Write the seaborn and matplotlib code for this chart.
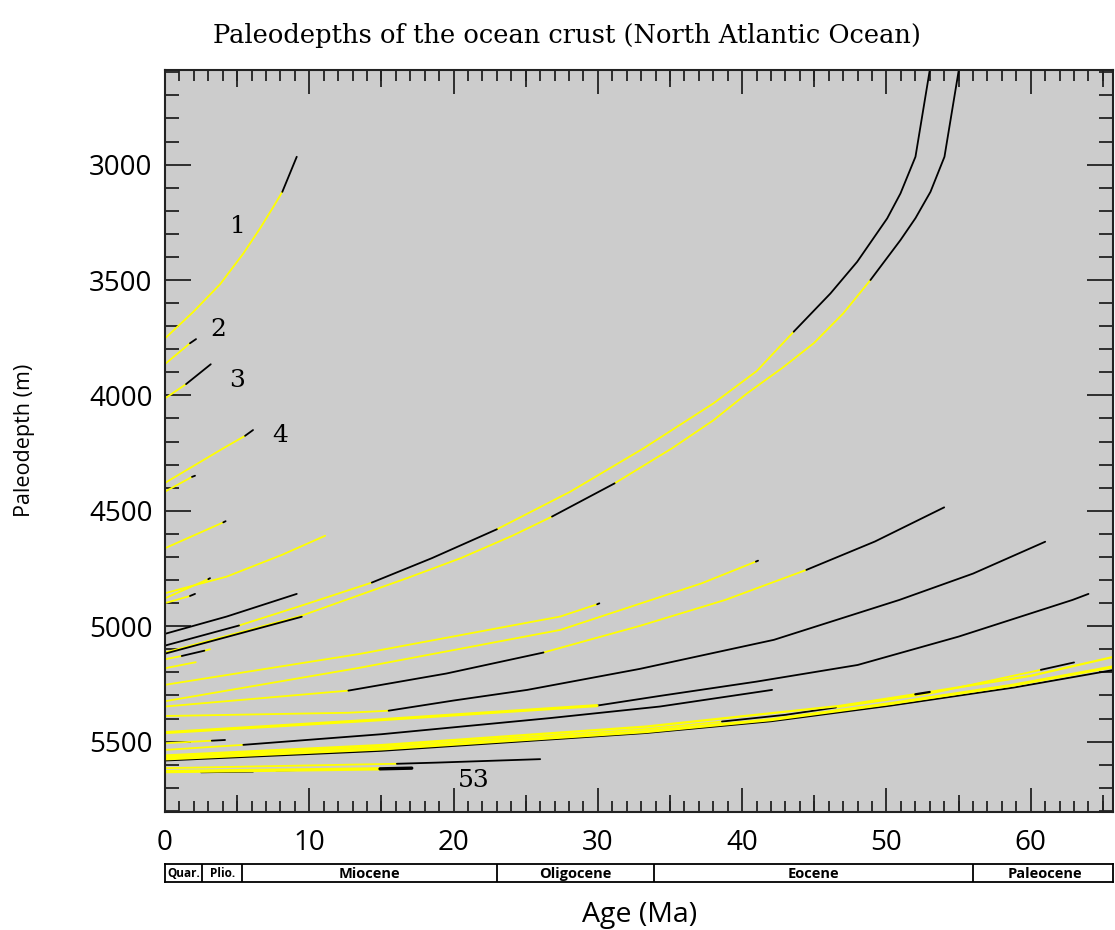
import pandas as pd
import matplotlib
matplotlib.use("Agg")
import matplotlib.pyplot as plt
import seaborn as sns
from matplotlib.ticker import MultipleLocator

# paleodepth curves: age (Ma), depth (m), colour of each segment (y = yellow, k = black)
c01_age = [0, 1.96, 3.81, 5.43, 6.59, 7.51, 8.13, 9.13]
c01_dep = [3753, 3638, 3519, 3385, 3276, 3183, 3118, 2966]
c01_col = "yyyyyyk"

c02_age = [0, 1.73, 2.15]
c02_dep = [3864, 3774, 3756]
c02_col = "yk"

c03_age = [0, 1.46, 3.17]
c03_dep = [4013, 3951, 3865]
c03_col = "yk"

c04_age = [0, 4.04, 5.55, 6.1]
c04_dep = [4379, 4229, 4175, 4150]
c04_col = "yyk"

c05_age = [0, 1.87, 2.08]
c05_dep = [4417, 4353, 4348]
c05_col = "yk"

c06_age = [0, 4.04, 4.2]
c06_dep = [4662, 4550, 4545]
c06_col = "yk"

c07_age = [0, 4.28, 8.1, 11.1]
c07_dep = [4857, 4785, 4691, 4608]
c07_col = "yyy"

c08_age = [0, 3.0, 3.12]
c08_dep = [4879, 4796, 4792]
c08_col = "yk"

c09_age = [0, 1.73, 2.08]
c09_dep = [4900, 4869, 4860]
c09_col = "yk"

c10_age = [0, 4.28, 9.13]
c10_dep = [5033, 4958, 4860]
c10_col = "kk"

# the two long curves reaching the ridge
up_age = [0, 5.13, 9.5, 14.33, 18.5, 23.0, 28.09, 33.17, 38.02, 41.0, 43.57, 46.12, 47.97, 50.05, 50.97, 52.01, 53.0]
up_dep = [5084, 4997, 4910, 4811, 4705, 4580, 4417, 4229, 4034, 3895, 3724, 3558, 3421, 3233, 3125, 2966, 2591]
up_col = "kyykkyyyyykkkkkk"

lo_age = [0, 9.48, 16.76, 20.5, 24.04, 26.82, 31.16, 35.14, 38.0, 40.34, 42.8, 44.96, 47.0, 48.89, 50.97, 52.01, 53.05, 54.02, 55.01]
lo_dep = [5114, 4954, 4792, 4705, 4609, 4525, 4381, 4229, 4108, 3991, 3880, 3774, 3645, 3500, 3327, 3232, 3118, 2966, 2591]
lo_col = "yyyyykyyyyyyykkkkk"

c11_age = [0, 9.48]
c11_dep = [5119, 4959]
c11_col = "k"

c12_age = [0, 1.16, 2.73, 3.12]
c12_dep = [5143, 5129, 5106, 5100]
c12_col = "yky"

c13_age = [0, 2.13]
c13_dep = [5182, 5156]
c13_col = "y"

p_age = [0, 13.5, 27.4, 29.95, 30.1]
p_dep = [5254, 5120, 4958, 4905, 4901]
p_col = "yyyk"

q_age = [0, 13.5, 27.4, 37.2, 40.95, 41.1]
q_dep = [5325, 5180, 5016, 4814, 4720, 4716]
q_col = "yyyyk"

r_age = [0, 12.71, 19.5, 26.23, 32.94, 38.83, 44.45, 49.2, 54.0]
r_dep = [5348, 5279, 5205, 5114, 4998, 4886, 4756, 4633, 4485]
r_col = "ykkyyykk"

s_age = [0, 12.7, 15.5, 20.0, 25.1, 32.9, 42.2, 50.9, 56.0, 61.0]
s_dep = [5389, 5375, 5366, 5322, 5276, 5185, 5059, 4886, 4772, 4634]
s_col = "yykkkkkkk"

t1_age = [0, 15.0, 29.94]
t1_dep = [5461, 5405, 5344]
t1_col = "yy"

t2_age = [29.94, 34.3, 41.0, 48.0, 55.0, 62.9, 64.0]
t2_dep = [5344, 5302, 5240, 5168, 5045, 4886, 4860]
t2_col = "kkkkkk"

u_age = [0, 5.43, 15.0, 26.7, 34.3, 42.07]
u_dep = [5536, 5514, 5468, 5398, 5348, 5276]
u_col = "ykkkk"

v_age = [0, 3.24, 4.16]
v_dep = [5507, 5496, 5493]
v_col = "yk"

b1_age = [0, 15.0, 33.3, 46.8, 52.0, 53.0, 60.0, 65.8]
b1_dep = [5560, 5515, 5435, 5345, 5295, 5285, 5215, 5132]
b1_col = "yyyykyy"

b2_age = [0, 15.0, 33.3, 38.6, 43.0, 46.5, 53.0, 60.7, 63.0]
b2_dep = [5566, 5522, 5446, 5413, 5384, 5352, 5292, 5189, 5157]
b2_col = "yyykkyyk"

b3_age = [0, 15.0, 33.3, 42.0, 50.3, 58.8, 65.8]
b3_dep = [5575, 5532, 5457, 5405, 5335, 5255, 5175]
b3_col = "yyyyyy"

b4_age = [0, 15.0, 33.3, 42.0, 50.3, 58.8, 65.8]
b4_dep = [5582, 5540, 5463, 5412, 5344, 5266, 5189]
b4_col = "kkkkkk"

l8_age = [0, 16.07, 18.84, 26.0]
l8_dep = [5615, 5596, 5591, 5576]
l8_col = "ykk"

l9_age = [0, 14.9, 17.1]
l9_dep = [5630, 5618, 5615]
l9_col = "yk"

d1_age = [2.5, 6.1]
d1_dep = [5633, 5630]
d1_col = "k"

d2_age = [7.7, 10.5]
d2_dep = [5625, 5622]
d2_col = "k"

# curve numbers written on the plot
label_text = ["1", "2", "3", "4", "53"]
label_age = [5.08, 3.69, 4.97, 7.98, 21.4]
label_dep = [3266, 3713, 3936, 4175, 5669]

# geological time scale under the axis
epoch_names = ["Quar.", "Plio.", "Miocene", "Oligocene", "Eocene", "Paleocene"]
epoch_edges = [0, 2.58, 5.33, 23.03, 33.9, 56.0, 66.0]

curves = [
    (c01_age, c01_dep, c01_col, 1.3), (c02_age, c02_dep, c02_col, 1.3),
    (c03_age, c03_dep, c03_col, 1.3), (c04_age, c04_dep, c04_col, 1.3),
    (c05_age, c05_dep, c05_col, 1.3), (c06_age, c06_dep, c06_col, 1.3),
    (c07_age, c07_dep, c07_col, 1.3), (c08_age, c08_dep, c08_col, 1.3),
    (c09_age, c09_dep, c09_col, 1.3), (c10_age, c10_dep, c10_col, 1.3),
    (c11_age, c11_dep, c11_col, 1.3), (up_age, up_dep, up_col, 1.3),
    (lo_age, lo_dep, lo_col, 1.3), (c12_age, c12_dep, c12_col, 1.3),
    (c13_age, c13_dep, c13_col, 1.3), (p_age, p_dep, p_col, 1.3),
    (q_age, q_dep, q_col, 1.3), (r_age, r_dep, r_col, 1.3),
    (s_age, s_dep, s_col, 1.3), (t1_age, t1_dep, t1_col, 2.2),
    (t2_age, t2_dep, t2_col, 1.3),
    (u_age, u_dep, u_col, 1.3), (v_age, v_dep, v_col, 1.3),
    (b4_age, b4_dep, b4_col, 1.3), (b3_age, b3_dep, b3_col, 2.2),
    (b2_age, b2_dep, b2_col, 1.3), (b1_age, b1_dep, b1_col, 1.6),
    (l8_age, l8_dep, l8_col, 1.3), (l9_age, l9_dep, l9_col, 2.4),
    (d1_age, d1_dep, d1_col, 1.3), (d2_age, d2_dep, d2_col, 1.3),
]

# split every curve into runs of one colour
rows = []
run = 0
for ages, deps, cols, lw in curves:
    start = 0
    for i in range(1, len(cols) + 1):
        if i == len(cols) or cols[i] != cols[start]:
            for j in range(start, i + 1):
                rows.append((ages[j], deps[j], run, cols[start], lw))
            run += 1
            start = i
df = pd.DataFrame(rows, columns=["age", "depth", "run", "col", "lw"])

sns.set_theme(style="ticks")
plt.rcParams["font.family"] = ["Open Sans", "DejaVu Sans"]
plt.rcParams["text.color"] = "black"
plt.rcParams["xtick.labelcolor"] = "black"
plt.rcParams["ytick.labelcolor"] = "black"

W, H = 1115, 930
fig = plt.figure(figsize=(W / 100, H / 100), dpi=100)
ax = fig.add_axes([165 / W, 1 - 812 / H, 948 / W, 742 / H])
ax.set_facecolor("#cccccc")

pal = {"y": "#ffff00", "k": "black"}
for w in df["lw"].unique():
    sns.lineplot(data=df[df["lw"] == w], x="age", y="depth", units="run",
                 estimator=None, hue="col", palette=pal, sort=False,
                 legend=False, linewidth=w, ax=ax)

ax.set_xlim(0, 65.7)
ax.set_ylim(5805, 2590)
ax.set_xlabel("")
ax.set_ylabel("")

ax.xaxis.set_major_locator(MultipleLocator(10))
ax.xaxis.set_minor_locator(MultipleLocator(1))
ax.yaxis.set_major_locator(MultipleLocator(500))
ax.yaxis.set_minor_locator(MultipleLocator(100))
ax.tick_params(which="both", direction="in", top=True, right=True,
               color="#222222", width=1.3, labelsize=20, labelcolor="black")
ax.tick_params(axis="x", which="major", length=17, pad=12)
ax.tick_params(axis="x", which="minor", length=8)
ax.tick_params(axis="y", which="major", length=19, pad=9)
ax.tick_params(axis="y", which="minor", length=10)
for s in ax.spines.values():
    s.set_color("#222222")
    s.set_linewidth(1.5)

# medium ticks every 5 Ma
for loc in ["top", "bottom"]:
    sec = ax.secondary_xaxis(loc)
    sec.set_xticks([5, 15, 25, 35, 45, 55, 65])
    sec.tick_params(direction="in", length=12, width=1.3, color="#222222",
                    labelbottom=False, labeltop=False)
    for s in sec.spines.values():
        s.set_visible(False)

for txt, a, d in zip(label_text, label_age, label_dep):
    ax.text(a, d, txt, fontsize=18, family="DejaVu Serif", ha="center", va="center",
            color="black")

# epoch bar
eax = fig.add_axes([165 / W, 1 - 882 / H, 948 / W, 18 / H])
eax.set_xlim(0, 65.7)
eax.set_ylim(0, 1)
eax.set_xticks([])
eax.set_yticks([])
eax.set_facecolor("white")
for s in eax.spines.values():
    s.set_color("black")
    s.set_linewidth(1.3)
for e in epoch_edges[1:-1]:
    eax.axvline(e, color="black", lw=1.3)
for i, name in enumerate(epoch_names):
    mid = (epoch_edges[i] + epoch_edges[i + 1]) / 2
    fs = 8.5 if i < 2 else 10.5
    eax.text(mid, 0.45, name, ha="center", va="center", fontsize=fs, fontweight="bold",
             color="black")

fig.text(567 / W, 1 - 35 / H, "Paleodepths of the ocean crust (North Atlantic Ocean)",
         ha="center", va="center", fontsize=18.5, family="DejaVu Serif", color="black")
fig.text(25 / W, 1 - 440 / H, "Paleodepth (m)", rotation=90, ha="center", va="center",
         fontsize=15.5, color="black")
fig.text(640 / W, 1 - 915 / H, "Age (Ma)", ha="center", va="center", fontsize=20.5,
         color="black")

fig.savefig("out.png", dpi=100)
